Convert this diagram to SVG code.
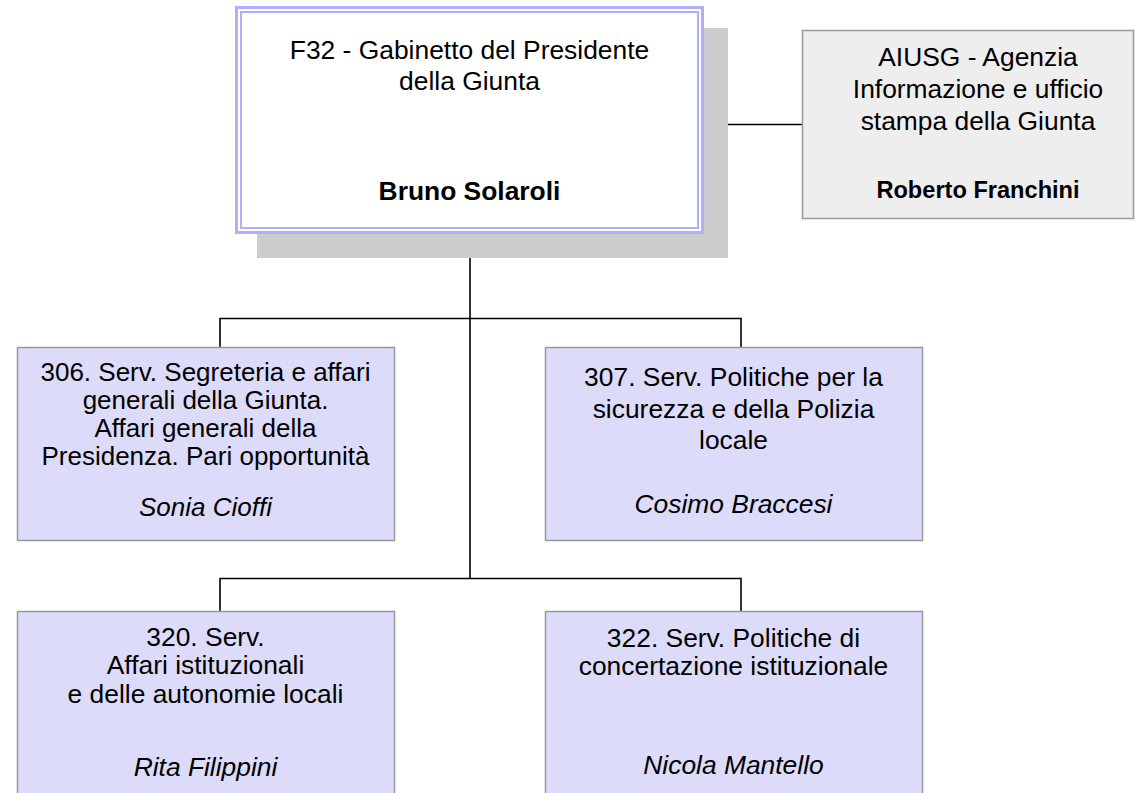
<svg xmlns="http://www.w3.org/2000/svg" width="1135" height="793" viewBox="0 0 1135 793">
  <style>
    text { font-family: "Liberation Sans", Arial, sans-serif; fill: #000; text-anchor: middle; }
    .t { font-size: 26.4px; }
    .ts { font-size: 26px; }
    .b { font-weight: bold; }
    .i { font-style: italic; }
    .unit { fill: #dcdcfa; stroke: #999999; stroke-width: 1.5; }
    .ext { fill: #eeeeee; stroke: #999999; stroke-width: 1.5; }
    .conn { stroke: #000; stroke-width: 1.6; fill: none; }
  </style>
  <rect width="1135" height="793" fill="#ffffff"/>

  <g id="connectors">
    <path class="conn" d="M470 234 V578"/>
    <path class="conn" d="M220 347 V318.5 H741 V347"/>
    <path class="conn" d="M220 611 V578.5 H741 V611"/>
    <path class="conn" d="M727 124.5 H802"/>
  </g>

  <g id="f32">
    <rect x="257" y="28" width="471" height="230" fill="#cccccc"/>
    <rect x="235" y="6" width="469" height="228" fill="#ffffff"/>
    <rect x="236.5" y="7.5" width="466" height="225" fill="none" stroke="#b0b0fa" stroke-width="3"/>
    <rect x="241" y="12" width="457" height="216" fill="none" stroke="#b0b0fa" stroke-width="2"/>
    <text class="t" x="469.5" y="59">F32 - Gabinetto del Presidente</text>
    <text class="t" x="469.5" y="89.5">della Giunta</text>
    <text class="t b" x="469.5" y="199.5">Bruno Solaroli</text>
  </g>

  <g id="aiusg">
    <rect class="ext" x="802.5" y="30.5" width="331" height="188"/>
    <text class="t" x="978" y="66">AIUSG - Agenzia</text>
    <text class="t" x="978" y="98">Informazione e ufficio</text>
    <text class="t" x="978" y="130">stampa della Giunta</text>
    <text class="b" x="978" y="198" font-size="23.6">Roberto Franchini</text>
  </g>

  <g id="s306">
    <rect class="unit" x="17.5" y="347.5" width="377" height="193"/>
    <text class="ts" x="205.5" y="381">306. Serv. Segreteria e affari</text>
    <text class="ts" x="205.5" y="409">generali della Giunta.</text>
    <text class="ts" x="205.5" y="437">Affari generali della</text>
    <text class="ts" x="205.5" y="465">Presidenza. Pari opportunità</text>
    <text class="ts i" x="205.5" y="516">Sonia Cioffi</text>
  </g>

  <g id="s307">
    <rect class="unit" x="545.5" y="347.5" width="377" height="193"/>
    <text class="t" x="733.5" y="386">307. Serv. Politiche per la</text>
    <text class="t" x="733.5" y="417.5">sicurezza e della Polizia</text>
    <text class="t" x="733.5" y="449">locale</text>
    <text class="t i" x="733.5" y="513">Cosimo Braccesi</text>
  </g>

  <g id="s320">
    <rect class="unit" x="17.5" y="611.5" width="377" height="190"/>
    <text class="t" x="205.5" y="646">320. Serv.</text>
    <text class="t" x="205.5" y="674">Affari istituzionali</text>
    <text class="t" x="205.5" y="703">e delle autonomie locali</text>
    <text class="t i" x="205.5" y="776">Rita Filippini</text>
  </g>

  <g id="s322">
    <rect class="unit" x="545.5" y="611.5" width="377" height="190"/>
    <text class="t" x="733.5" y="647">322. Serv. Politiche di</text>
    <text class="t" x="733.5" y="675">concertazione istituzionale</text>
    <text class="t i" x="733.5" y="774">Nicola Mantello</text>
  </g>
</svg>
